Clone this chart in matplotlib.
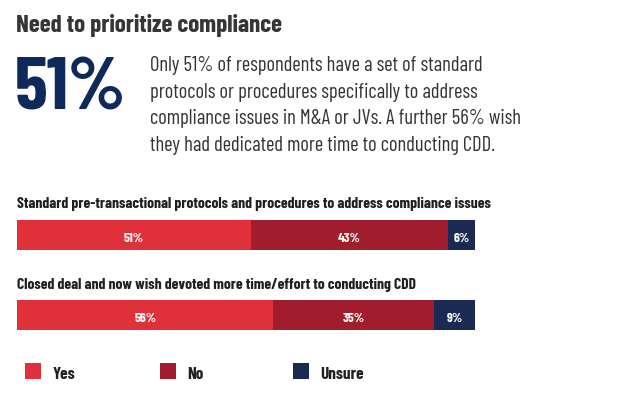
import math
import matplotlib
matplotlib.use("Agg")
import matplotlib.pyplot as plt
from matplotlib.patches import Rectangle
from matplotlib.textpath import TextPath
from matplotlib.font_manager import FontProperties, findfont

# ---- data ----
questions = [
    "Standard pre-transactional protocols and procedures to address compliance issues",
    "Closed deal and now wish devoted more time/effort to conducting CDD",
]
categories = ["Yes", "No", "Unsure"]
yes_vals = [51, 56]
no_vals = [43, 35]
unsure_vals = [6, 9]
title = "Need to prioritize compliance"
big_stat = "51%"
paragraph_lines = [
    "Only 51% of respondents have a set of standard",
    "protocols or procedures specifically to address",
    "compliance issues in M&A or JVs. A further 56% wish",
    "they had dedicated more time to conducting CDD.",
]

colors = ["#e0313a", "#a11c2d", "#1b2a52"]

# ---- choose the installed condensed family closest to the reference type ----
candidates = ["PT Sans Narrow", "Fira Sans Condensed", "Fira Sans Extra Condensed",
              "Roboto Condensed", "Barlow Condensed", "Barlow Semi Condensed",
              "Sofia Sans Condensed", "Sofia Sans Semi Condensed", "Encode Sans Condensed",
              "Asap Condensed", "IBM Plex Sans Condensed", "Archivo Narrow",
              "Open Sans Condensed", "Cabin Condensed"]
tests = [(title, "bold", 15.2), (questions[0], "bold", 48.0),
         (paragraph_lines[2], "normal", 23.6)]


def ink(text, prop):
    return TextPath((0, 0), text, size=100, prop=prop).get_extents()


best, best_err = "DejaVu Sans", 1e9
for fam in candidates:
    try:
        err = 0
        for s, w, tgt in tests:
            fp = FontProperties(family=fam, weight=w)
            findfont(fp, fallback_to_default=False)
            cap = ink("H", fp).height
            err += abs(math.log(ink(s, fp).width / cap / tgt))
        if err < best_err:
            best, best_err = fam, err
    except Exception:
        continue

FAM = best
plt.rcParams["font.family"] = [FAM, "DejaVu Sans"]


def fit(text, weight, width_px, cap_px, cap_char="H", mix=0.5):
    fp = FontProperties(family=FAM, weight=weight)
    e = ink(text, fp)
    s_w = width_px * 72 / e.width
    s_h = cap_px * 72 / ink(cap_char, fp).height
    size = s_w ** (1 - mix) * s_h ** mix
    return size, e.x0 * size / 72


W, H = 620, 393
fig = plt.figure(figsize=(W / 100, H / 100), dpi=100)

ov = fig.add_axes([0, 0, 1, 1])
ov.set_xlim(0, W)
ov.set_ylim(H, 0)
ov.axis("off")

# title
s, dx = fit(title, "bold", 266, 17.5)
ov.text(17 - dx, 31.7, title, fontsize=s, fontweight="bold", color="#363636",
        va="baseline", ha="left")

# big number
s, dx = fit(big_stat, "bold", 96, 58, "5")
ov.text(17 - dx, 110, big_stat, fontsize=s, fontweight="bold", color="#0e2a5a",
        va="baseline", ha="left")

# paragraph
s, dx = fit(paragraph_lines[2], "normal", 354, 15)
for i, line in enumerate(paragraph_lines):
    ov.text(151.5 - dx, 71 + i * 26.7, line, fontsize=s, color="#333333",
            va="baseline", ha="left")

# question labels
s, dx = fit(questions[0], "bold", 479, 10.3, mix=0.15)
for q, y in zip(questions, [208.3, 289]):
    ov.text(17.3 - dx, y, q, fontsize=s, fontweight="bold", color="#231f20",
            va="baseline", ha="left")

# legend
s, dx = fit("Unsure", "bold", 42.3, 12)
leg_x = [25, 160, 293]
for c, lab, x in zip(colors, categories, leg_x):
    ov.add_patch(Rectangle((x, 363), 16, 16, facecolor=c, edgecolor="none"))
    ov.text(x + 28 - dx, 379, lab, fontsize=s, fontweight="bold",
            color="#231f20", va="baseline", ha="left")

# bars
left_px, right_px = 17, 475
top_px, bot_px = 219, 331
bx = fig.add_axes([left_px / W, 1 - bot_px / H, (right_px - left_px) / W,
                   (bot_px - top_px) / H])
bx.set_xlim(0, 100)
ypos = [0, 1]
bx.set_ylim(1.2, -0.2)
bx.axis("off")

sv, _ = fit("51%", "bold", 19.7, 8.3, "5", mix=0.15)
series = [yes_vals, no_vals, unsure_vals]
lefts = [0, 0]
for vals, c in zip(series, colors):
    bx.barh(ypos, vals, left=lefts, height=0.37, color=c, edgecolor="none")
    for yi, (l, v) in enumerate(zip(lefts, vals)):
        bx.annotate(f"{v}%", (l + v / 2, ypos[yi]), xytext=(0, -6.5),
                    textcoords="offset pixels", color="white", fontsize=sv,
                    fontweight="bold", ha="center", va="baseline")
    lefts = [l + v for l, v in zip(lefts, vals)]

fig.savefig("out.png", dpi=100, facecolor="white")
